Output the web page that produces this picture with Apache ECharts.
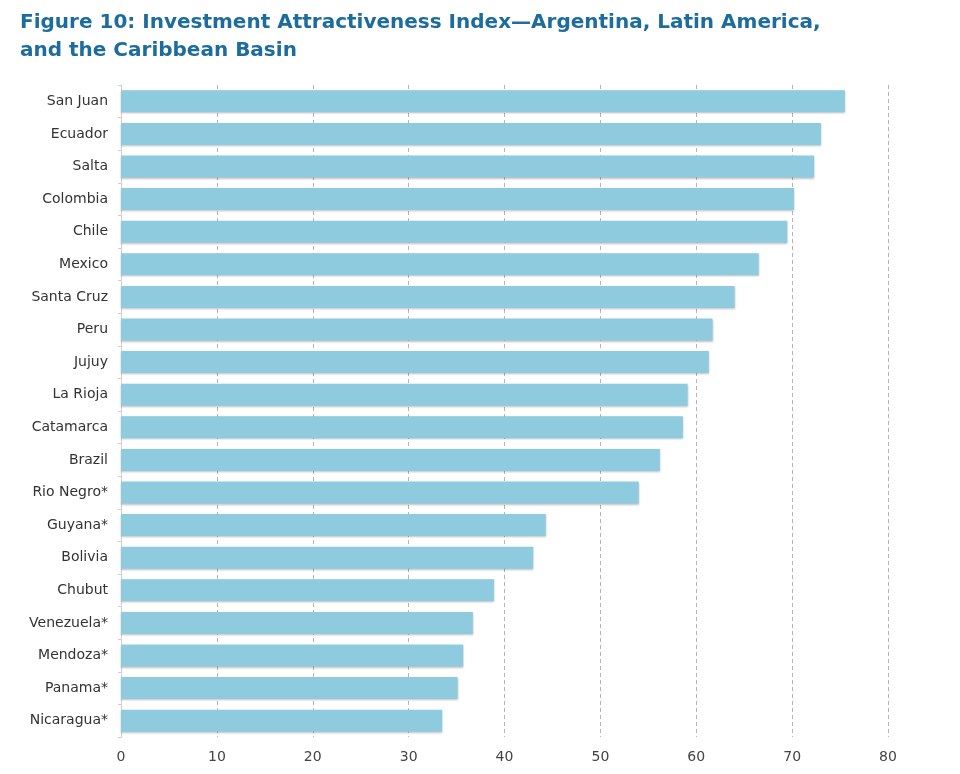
<!DOCTYPE html>
<html>
<head>
<meta charset="utf-8">
<script src="https://cdn.jsdelivr.net/npm/echarts@6/dist/echarts.min.js"></script>
<style>
  html, body { margin: 0; padding: 0; background: #fff; }
  #chart { width: 960px; height: 774px; }
</style>
</head>
<body>
<div id="chart"></div>
<script>
// categories top to bottom, as in the figure
const regions = ['San Juan', 'Ecuador', 'Salta', 'Colombia', 'Chile', 'Mexico', 'Santa Cruz', 'Peru',
  'Jujuy', 'La Rioja', 'Catamarca', 'Brazil', 'Rio Negro*', 'Guyana*', 'Bolivia', 'Chubut',
  'Venezuela*', 'Mendoza*', 'Panama*', 'Nicaragua*'];
const indexValues = [75.5, 73.0, 72.3, 70.2, 69.5, 66.5, 64.0, 61.7, 61.3, 59.1, 58.6, 56.2, 54.0,
  44.3, 43.0, 38.9, 36.7, 35.7, 35.1, 33.5];
const xTicks = [0, 10, 20, 30, 40, 50, 60, 70, 80];

const chart = echarts.init(document.getElementById('chart'));
chart.setOption({
  animation: false,
  title: {
    text: 'Figure 10: Investment Attractiveness Index\u2014Argentina, Latin America,\nand the Caribbean Basin',
    left: 15,
    top: 4,
    textStyle: {
      fontFamily: 'DejaVu Sans',
      fontWeight: 'bold',
      fontSize: 20,
      color: '#1d6c9e',
      lineHeight: 28
    }
  },
  grid: { left: 121, right: 72, top: 85, bottom: 37 },
  xAxis: {
    type: 'value',
    min: xTicks[0],
    max: xTicks[xTicks.length - 1],
    interval: 10,
    axisLine: { show: false },
    axisTick: { show: false },
    axisLabel: { color: '#444', fontSize: 14, fontFamily: 'DejaVu Sans', margin: 13 },
    splitLine: { show: true, lineStyle: { color: '#b5b5b5', type: [4, 3], width: 1 } }
  },
  yAxis: {
    type: 'category',
    inverse: true,
    data: regions,
    axisLine: { show: true, lineStyle: { color: '#cfcfcf' } },
    axisTick: { show: true, length: 3, lineStyle: { color: '#cfcfcf' } },
    axisLabel: { color: '#333', fontSize: 14, fontFamily: 'DejaVu Sans', margin: 13 }
  },
  series: [{
    type: 'bar',
    data: indexValues,
    barWidth: 22,
    itemStyle: {
      color: '#8ecbde',
      shadowColor: 'rgba(0,0,0,0.25)',
      shadowBlur: 2,
      shadowOffsetY: 1
    }
  }]
});
</script>
</body>
</html>
